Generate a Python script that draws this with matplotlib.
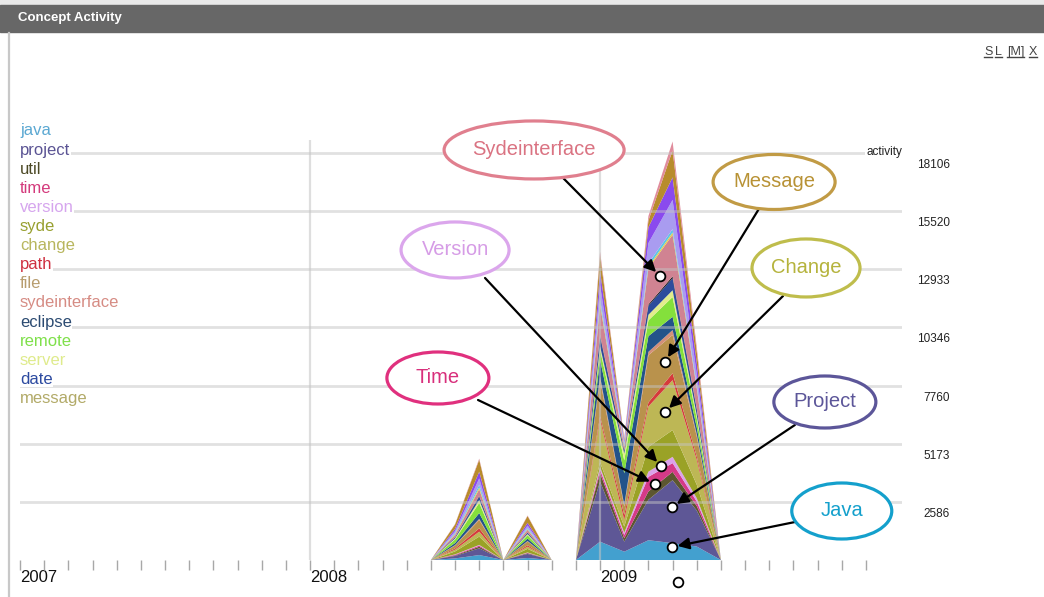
import matplotlib
matplotlib.use("Agg")
import matplotlib.pyplot as plt
from matplotlib.patches import Ellipse, Rectangle
from matplotlib.lines import Line2D

# ---------------- data ----------------
months = ["2008-06", "2008-07", "2008-08", "2008-09", "2008-10", "2008-11", "2008-12",
          "2009-01", "2009-02", "2009-03", "2009-04", "2009-05", "2009-06"]

java          = [0, 70, 220, 0, 90, 0, 0, 815, 370, 880, 750, 600, 0]
project       = [0, 110, 300, 0, 180, 0, 0, 2670, 445, 1800, 2800, 1600, 0]
util          = [0, 25, 70, 0, 30, 0, 0, 385, 150, 370, 370, 200, 0]
time_         = [0, 30, 50, 0, 20, 0, 0, 150, 150, 650, 390, 200, 0]
version       = [0, 15, 30, 0, 15, 0, 0, 120, 100, 230, 280, 150, 0]
syde          = [0, 130, 370, 0, 160, 0, 0, 200, 270, 1100, 1190, 600, 0]
change        = [0, 80, 220, 0, 100, 0, 0, 1900, 300, 1800, 2220, 1100, 0]
path          = [0, 55, 150, 0, 60, 0, 0, 150, 220, 180, 310, 150, 0]
file_         = [0, 130, 370, 0, 170, 0, 0, 1630, 370, 2100, 1700, 900, 0]
other_salmon  = [0, 20, 50, 0, 20, 0, 0, 140, 80, 150, 220, 100, 0]
eclipse       = [0, 90, 260, 0, 110, 0, 0, 750, 1400, 700, 590, 300, 0]
remote        = [0, 160, 450, 0, 150, 0, 0, 445, 580, 700, 880, 400, 0]
server        = [0, 45, 130, 0, 50, 0, 0, 150, 300, 250, 300, 150, 0]
date          = [0, 50, 150, 0, 60, 0, 0, 440, 130, 400, 540, 250, 0]
other_black   = [0, 10, 30, 0, 10, 0, 0, 60, 20, 60, 80, 40, 0]
sydeinterface = [0, 100, 300, 0, 120, 0, 0, 1330, 150, 1600, 1850, 900, 0]
other_yellow  = [0, 30, 80, 0, 30, 0, 0, 100, 40, 80, 100, 50, 0]
other_cyan    = [0, 40, 120, 0, 50, 0, 0, 150, 60, 150, 150, 80, 0]
other_lavender= [0, 100, 280, 0, 110, 0, 0, 640, 100, 900, 1300, 500, 0]
other_violet  = [0, 100, 300, 0, 120, 0, 0, 610, 80, 700, 1000, 500, 0]
message       = [0, 190, 530, 0, 300, 0, 0, 730, 60, 300, 1200, 500, 0]
other_border  = [0, 20, 50, 0, 25, 0, 0, 150, 40, 200, 400, 200, 0]

layers = [java, project, util, time_, version, syde, change, path, file_, other_salmon,
          eclipse, remote, server, date, other_black, sydeinterface, other_yellow,
          other_cyan, other_lavender, other_violet, message, other_border]
fill_colors = ["#43a0cf", "#5e5796", "#5c5630", "#d53a88", "#dba2ea", "#9aa226",
               "#bdb755", "#d63a3c", "#b9924c", "#d49079", "#23538a", "#84e03c",
               "#e2ec8c", "#2d4c9c", "#1c1c1c", "#d08392", "#e6d048", "#5cc6e6",
               "#a99cf0", "#8a4aee", "#b88c2c", "#e08c9c"]

legend_names = ["java", "project", "util", "time", "version", "syde", "change", "path",
                "file", "sydeinterface", "eclipse", "remote", "server", "date", "message"]
legend_colors = ["#5ba8d2", "#5b5494", "#4d4a26", "#d43a7c", "#d6a6ee", "#98a030",
                 "#b8b65e", "#cf3040", "#b89d6f", "#d68c84", "#2c4b72", "#7fe04a",
                 "#dfeb8c", "#2c4aa0", "#b2aa68"]

y_ticks = [2586, 5173, 7760, 10346, 12933, 15520, 18106]
y_tick_labels = ["2586", "5173", "7760", "10346", "12933", "15520", "18106"]
year_labels = ["2007", "2008", "2009"]

# annotations: label, dot (month, value), tail (month, value), ellipse centre, size, colours
ann_labels = ["Sydeinterface", "Message", "Version", "Change", "Time", "Project", "Java"]
ann_dot_x = [26.48, 26.69, 26.52, 26.69, 26.27, 26.98, 26.98]
ann_dot_y = [12635, 8809, 4182, 6585, 3381, 2358, 578]
ann_tail_x = [22.47, 30.62, 19.24, 31.57, 18.95, 32.06, 32.27]
ann_tail_y = [16995, 15705, 12546, 11745, 7118, 6006, 1735]
ell_cx = [21.27, 31.2, 18.0, 32.52, 17.29, 33.3, 34.0]
ell_cy = [18241, 16817, 13792, 12991, 8097, 7029, 2180]
ell_w_px = [180, 122, 108, 108, 102, 102, 100]
ell_h_px = [58, 55, 56, 58, 52, 52, 56]
ell_edge = ["#e07f8e", "#c19b45", "#dba6ec", "#bfbd4c", "#e0307e", "#5c5699", "#14a0cc"]
ell_text = ["#da7382", "#b89235", "#d69ce6", "#b5b33c", "#d8307c", "#5c5699", "#14a0cc"]
extra_dot = (27.22, -979)

# ---------------- figure ----------------
W, H = 1044, 597
fig = plt.figure(figsize=(W / 100, H / 100), dpi=100)
fig.patch.set_facecolor("white")


def fx(px):
    return px / W


def fy(py):
    return 1 - py / H


PX_PER_MONTH = 24.17
PX_PER_UNIT = 407 / 18106

ax = fig.add_axes([fx(20), fy(560), fx(902) - fx(20), fy(140) - fy(560)])
ax.patch.set_visible(False)
ax.set_xlim(0, 882 / PX_PER_MONTH)
ax.set_ylim(0, 420 / PX_PER_UNIT)
for s in ax.spines.values():
    s.set_visible(False)

x = [(int(m[:4]) - 2007) * 12 + int(m[5:]) - 1 for m in months]

polys = ax.stackplot(x, *layers, colors=fill_colors, zorder=2, linewidth=0)

# grid
for v in y_ticks:
    ax.axhline(v, color="#c4c4c4", lw=2, alpha=0.5, zorder=3)
for yr in (12, 24):
    ax.axvline(yr, color="#c4c4c4", lw=1.6, alpha=0.55, zorder=3)

# right labels
for v, lab in zip(y_ticks, y_tick_labels):
    ax.annotate(lab, xy=(1, v), xycoords=("axes fraction", "data"), xytext=(48, -12),
                textcoords="offset pixels", ha="right", va="center", fontsize=8.5,
                family="Liberation Sans", color="#222222", annotation_clip=False)
ax.annotate("activity", xy=(1, 18106), xycoords=("axes fraction", "data"), xytext=(0, 1),
            textcoords="offset pixels", ha="right", va="center", fontsize=8.5,
            family="Liberation Sans", color="#222222", annotation_clip=False, zorder=5,
            bbox=dict(fc="white", ec="none", pad=1))

# x ticks
ax.set_yticks([])
ax.set_xticks([0, 12, 24])
ax.set_xticklabels(year_labels, ha="left", fontsize=12, family="Liberation Sans",
                   color="#111111")
ax.set_xticks([m for m in range(36) if m % 12 != 0], minor=True)
ax.tick_params(axis="x", which="both", direction="out", length=7.5, width=1,
               color="#a8a8a8", pad=0)

# dots and arrows
for i in range(len(ann_labels)):
    ax.annotate("", xy=(ann_dot_x[i], ann_dot_y[i]), xytext=(ann_tail_x[i], ann_tail_y[i]),
                arrowprops=dict(arrowstyle="-|>", color="black", lw=1.6, mutation_scale=17,
                                shrinkA=0, shrinkB=4), annotation_clip=False, zorder=6)
    e = Ellipse((ell_cx[i], ell_cy[i]), ell_w_px[i] / PX_PER_MONTH, ell_h_px[i] / PX_PER_UNIT,
                fc="white", ec=ell_edge[i], lw=2.3, zorder=7, clip_on=False)
    ax.add_patch(e)
    ax.text(ell_cx[i], ell_cy[i], ann_labels[i], ha="center", va="center", fontsize=14.5,
            family="Liberation Sans", color=ell_text[i], zorder=8, clip_on=False)

ax.plot(ann_dot_x, ann_dot_y, "o", mfc="white", mec="black", ms=7, mew=1.3, zorder=9,
        clip_on=False)
ax.plot([extra_dot[0]], [extra_dot[1]], "o", mfc="white", mec="black", ms=7, mew=1.3,
        zorder=9, clip_on=False)

# legend
for i, (name, c) in enumerate(zip(legend_names, legend_colors)):
    fig.text(fx(20), fy(131 + 19.1 * i), name, color=c, fontsize=12, ha="left", va="center",
             family="Liberation Sans", bbox=dict(fc="white", ec="none", pad=0.3), zorder=5)

# panel chrome
fig.add_artist(Rectangle((0, fy(5)), 1, fy(0) - fy(5), transform=fig.transFigure,
                         color="#e9e9e9", zorder=-2))
fig.add_artist(Rectangle((0, fy(32)), 1, fy(5) - fy(32), transform=fig.transFigure,
                         color="#676767", zorder=-1))
fig.text(fx(18), fy(18.5), "Concept Activity", color="white", fontsize=9.5, fontweight="bold",
         family="Liberation Sans", ha="left", va="center")
fig.add_artist(Line2D([fx(9), fx(9)], [fy(33), fy(597)], transform=fig.transFigure,
                      color="#c8c8c8", lw=1.6))

ctrl = [("S", 984), ("L", 995), ("[M]", 1007), ("X", 1029)]
for t, px in ctrl:
    tx = fig.text(fx(px), fy(52), t, color="#444444", fontsize=9, family="Liberation Sans",
                  ha="left", va="center")
fig.canvas.draw()
r = fig.canvas.get_renderer()
for tx in fig.texts[-4:]:
    bb = tx.get_window_extent(r)
    fig.add_artist(Line2D([bb.x0 / W, bb.x1 / W], [(bb.y0 + 1) / H, (bb.y0 + 1) / H],
                          transform=fig.transFigure, color="#444444", lw=1))

fig.savefig("out.png", dpi=100)
